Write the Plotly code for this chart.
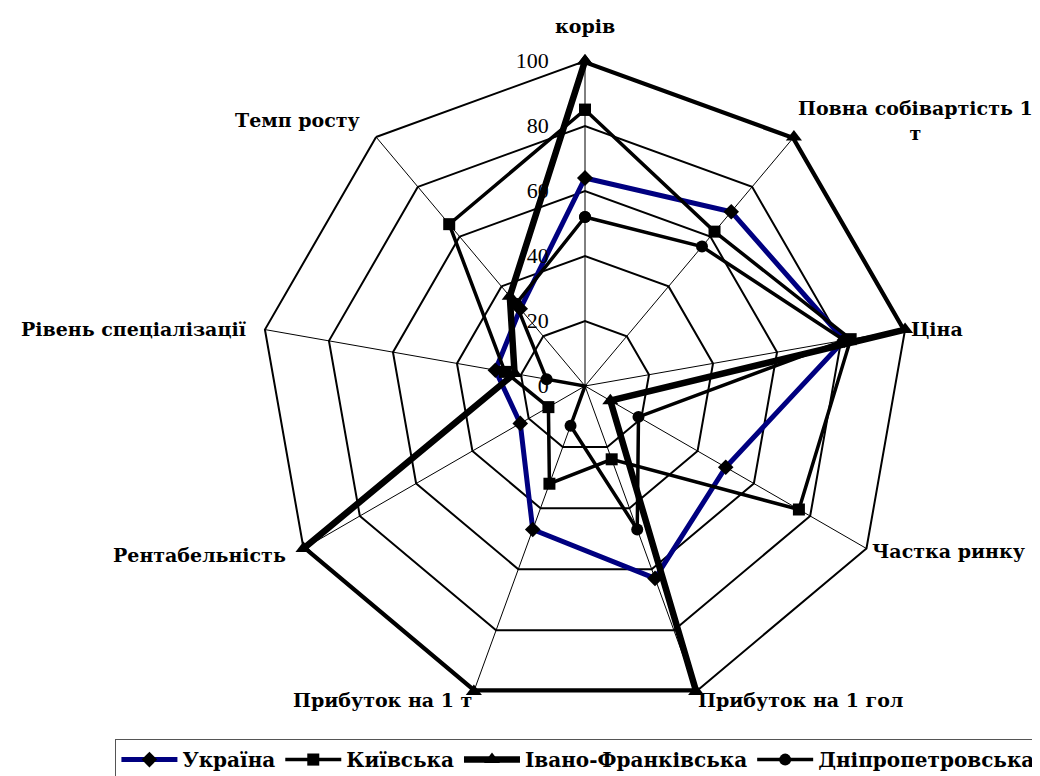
import math
import plotly.graph_objects as go

categories = ["корів", "Повна собівартість 1<br>т", "Ціна", "Частка ринку",
              "Прибуток на 1 гол", "Прибуток на 1 т", "Рентабельність",
              "Рівень спеціалізації", "Темп росту"]

ukraine = [64, 70, 81, 50, 63, 47, 23, 28, 31]
kyiv = [85, 62, 83, 76, 24, 32, 13, 25, 65]
ivano = [100, 100, 100, 9, 100, 100, 100, 22, 36]
dnipro = [52, 56, 81, 19, 47, 13, 0, 12, 33]

tick_vals = [0, 20, 40, 60, 80, 100]
tick_text = ["0", "20", "40", "60", "80", "100"]

series = [
    ("Україна", ukraine, "#000080", 5, "diamond", 12),
    ("Київська", kyiv, "black", 3.5, "square", 12),
    ("Івано-Франківська", ivano, "black", 6.5, "triangle-up", 14),
    ("Дніпропетровська", dnipro, "black", 3.5, "circle", 12),
]

W, H = 1040, 776
CX, CY, R = 577, 378, 325  # polar centre and radius in pixels
dom_x = [(CX - R) / W, (CX + R) / W]
dom_y = [(H - CY - R) / H, (H - CY + R) / H]

fig = go.Figure()
for name, vals, col, w, sym, sz in series:
    fig.add_trace(go.Scatterpolar(
        r=vals + vals[:1],
        theta=categories + categories[:1],
        mode="lines+markers",
        name=name,
        line=dict(color=col, width=w),
        marker=dict(symbol=sym, size=sz, color="black"),
    ))

serif = "Liberation Serif"
label_font = dict(family="DejaVu Serif", size=19, color="black", weight="bold")

# category labels placed just outside each vertex of the outer polygon
n = len(categories)
annotations = []
for i, cat in enumerate(categories):
    a = math.radians(360.0 * i / n)
    sx, cy_ = math.sin(a), math.cos(a)
    vx, vy = CX + R * sx, CY - R * cy_
    pad = 6
    px, py = vx + pad * sx, vy - pad * cy_
    if abs(sx) < 0.1:
        xa = "center"
    elif sx > 0:
        xa = "left"
    else:
        xa = "right"
        if cy_ > -0.9:
            px -= 12
    ya = "bottom" if cy_ > 0.9 else "middle"
    if cy_ > 0.9:
        py -= 18
    elif cy_ > 0.5:
        py -= 12
    elif cy_ < -0.5:
        py += 3
    annotations.append(dict(
        x=px / W, y=1 - py / H, xref="paper", yref="paper",
        text=cat, showarrow=False, xanchor=xa, yanchor=ya,
        align="center", font=label_font, borderpad=0, borderwidth=0,
    ))

fig.update_layout(
    width=W, height=H,
    margin=dict(l=0, r=0, t=0, b=0),
    paper_bgcolor="white",
    plot_bgcolor="white",
    font=dict(family=serif, color="black"),
    annotations=annotations,
    polar=dict(
        domain=dict(x=dom_x, y=dom_y),
        gridshape="linear",
        bgcolor="white",
        radialaxis=dict(
            range=[0, 100],
            tickvals=tick_vals,
            ticktext=tick_text,
            angle=90,
            side="counterclockwise",
            tickangle=90,
            showline=False,
            gridcolor="black",
            gridwidth=2,
            ticks="outside",
            ticklen=28,
            tickcolor="rgba(0,0,0,0)",
            tickfont=dict(family=serif, size=22, color="black"),
        ),
        angularaxis=dict(
            direction="clockwise",
            rotation=90,
            showline=True,
            linecolor="black",
            linewidth=2,
            gridcolor="black",
            gridwidth=0.7,
            ticks="",
            showticklabels=False,
        ),
    ),
    legend=dict(
        orientation="h",
        x=0.548, xanchor="center",
        y=0.005, yanchor="bottom",
        itemwidth=56,
        bordercolor="#555555",
        borderwidth=1,
        font=dict(family="DejaVu Serif", size=20, color="black", weight="bold"),
        bgcolor="white",
    ),
)

fig.write_html("out.html")
